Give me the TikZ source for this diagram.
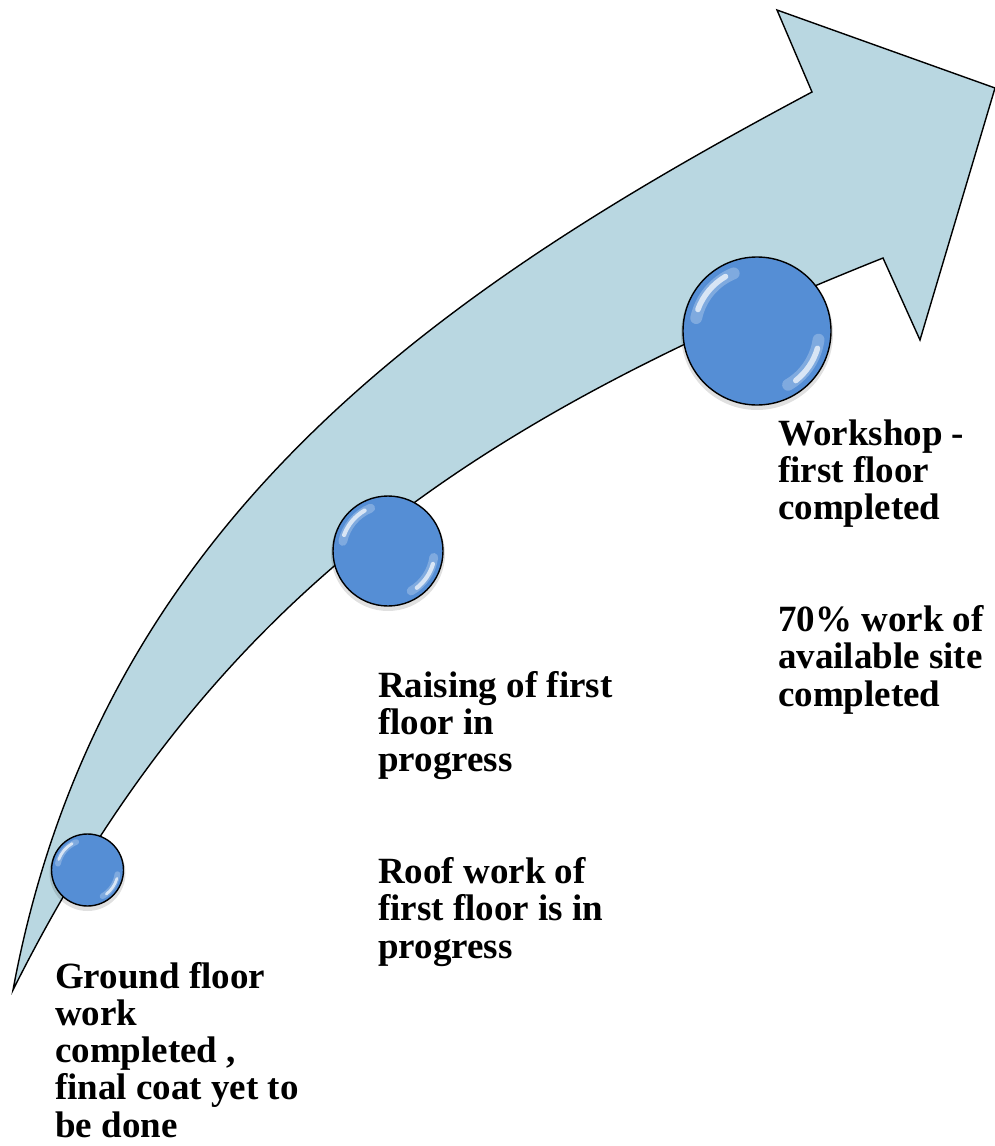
\documentclass[tikz,border=0pt]{standalone}
\usepackage{fontspec}
\setmainfont{Liberation Serif}
\definecolor{arrowfill}{RGB}{185,215,225}
\definecolor{ballblue}{RGB}{85,142,213}
\begin{document}
\begin{tikzpicture}[x=1pt,y=-1pt,
  arrowshape/.style={fill=arrowfill, draw=black, line width=1.4pt, line join=miter},
  ball/.style={circle, draw=black, line width=1.4pt, fill=ballblue, inner sep=0pt},
  hl/.style={white, opacity=0.7, line cap=round},
  hlsoft/.style={white, opacity=0.25, line cap=round},
  shadowc/.style={fill=black, opacity=0.12},
  label/.style={anchor=base west, inner sep=0pt, font=\bfseries\fontsize{37}{37.3}\selectfont}]
\useasboundingbox (0,0) rectangle (995,1146);

% curved arrow
\coordinate (tail) at (13,990);
\coordinate (notchtop) at (812,92);
\coordinate (barbtop) at (777,10);
\coordinate (tip) at (995,88);
\coordinate (barbbot) at (920,340);
\coordinate (notchbot) at (883,258);
\draw[arrowshape] (tail) .. controls (100,520) and (440,290) .. (notchtop)
  -- (barbtop) -- (tip) -- (barbbot) -- (notchbot)
  .. controls (483,418) and (213,590) .. (tail) -- cycle;

% balls
\foreach \n/\x/\y/\r in {c1/87.5/870/36, c2/388/551/55, c3/757/331/74}{
  \fill[shadowc] (\x,\y+3) circle[radius=\r pt+2pt];
  \node[ball, minimum size=2*\r pt] (\n) at (\x,\y) {};
  \draw[hlsoft, line width=0.16*\r pt] ([shift={(112:0.84*\r pt)}]\n.center) arc[start angle=112, end angle=168, radius=0.84*\r pt];
  \draw[hlsoft, line width=0.16*\r pt] ([shift={(-8:0.84*\r pt)}]\n.center) arc[start angle=-8, end angle=-60, radius=0.84*\r pt];
  \draw[hl, line width=0.075*\r pt] ([shift={(120:0.85*\r pt)}]\n.center) arc[start angle=120, end angle=160, radius=0.85*\r pt];
  \draw[hl, line width=0.075*\r pt] ([shift={(-16:0.85*\r pt)}]\n.center) arc[start angle=-16, end angle=-52, radius=0.85*\r pt];
}

% labels
\node[label] (t1) at (55,988) {\vtop{\baselineskip=37.3pt\hbox{Ground floor}\hbox{work}\hbox{completed ,}\hbox{final coat yet to}\hbox{be done}}};
\node[label] (t2) at (378,697) {\vtop{\baselineskip=37.3pt\hbox{Raising of first}\hbox{floor in}\hbox{progress}\hbox{}\hbox{}\hbox{Roof work of}\hbox{first floor is in}\hbox{progress}}};
\node[label] (t3) at (778,445) {\vtop{\baselineskip=37.3pt\hbox{Workshop -}\hbox{first floor}\hbox{completed}\hbox{}\hbox{}\hbox{70\% work of}\hbox{available site}\hbox{completed}}};
\end{tikzpicture}
\end{document}
